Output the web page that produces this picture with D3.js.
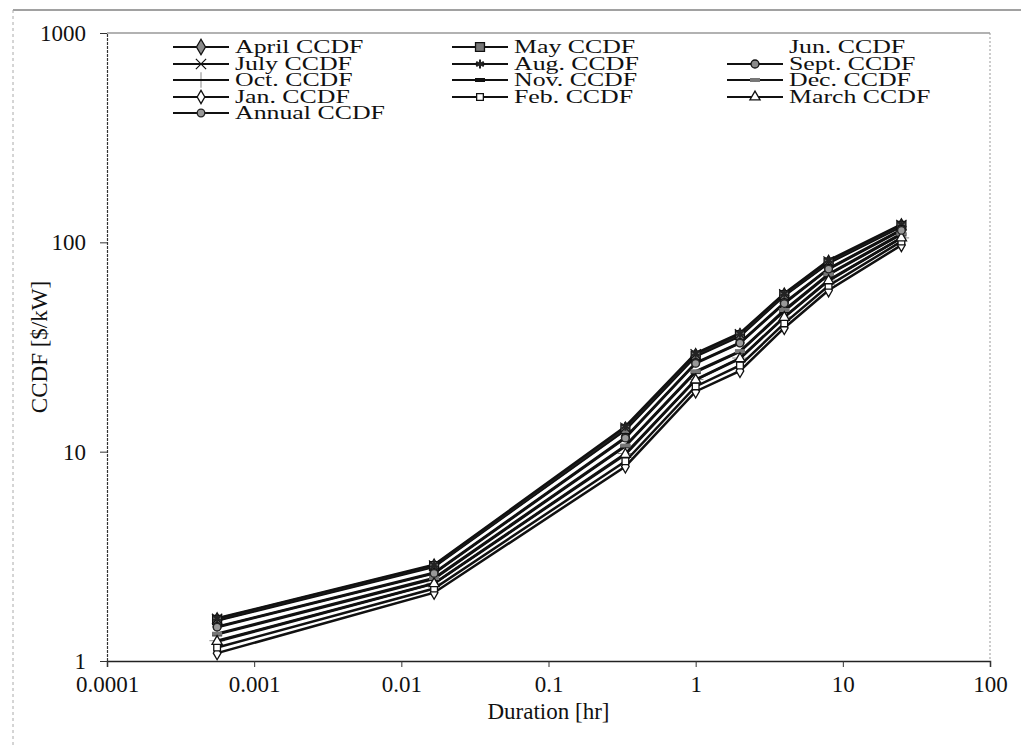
<!DOCTYPE html>
<html><head><meta charset="utf-8">
<script src="https://cdn.jsdelivr.net/npm/d3@7"></script>
<style>
html,body{margin:0;padding:0;background:#fff;}
text{font-family:"Liberation Serif","Times New Roman",serif;fill:#111;}
</style></head>
<body><svg id="c" width="1021" height="748"></svg>
<script>
// Durations [hr]
const durations = [0.00056, 0.0167, 0.333, 1, 2, 4, 8, 25];
// CCDF values [$/kW] per series
const aug    = [1.60, 2.88, 13.2, 29.5, 36.8, 57, 82, 122];
const july   = [1.59, 2.86, 13.0, 29.2, 36.4, 56.5, 81, 121];
const may    = [1.57, 2.84, 12.8, 28.8, 36.0, 56, 80, 120];
const april  = [1.56, 2.82, 12.7, 28.5, 35.6, 55.5, 79.5, 119];
const sept   = [1.46, 2.64, 11.7, 26.6, 33.2, 51.5, 75, 115];
const annual = [1.45, 2.62, 11.6, 26.4, 33.0, 51, 74.5, 114];
const jun    = [1.44, 2.61, 11.5, 26.2, 32.8, 50.5, 74, 114];
const dec    = [1.35, 2.49, 10.7, 24.2, 30.2, 47.5, 70.5, 110];
const nov    = [1.34, 2.47, 10.6, 24.0, 30.0, 47, 70, 109];
const oct    = [1.25, 2.35,  9.8, 22.1, 28.0, 44, 66, 105];
const march  = [1.24, 2.34,  9.7, 22.0, 27.8, 43.8, 65.5, 105];
const feb    = [1.16, 2.22,  9.0, 20.5, 25.8, 41, 62, 101];
const jan    = [1.09, 2.12,  8.5, 19.4, 24.3, 39, 59,  97];

const seriesNames = ["April CCDF","May CCDF","Jun. CCDF","July CCDF","Aug. CCDF","Sept. CCDF",
  "Oct. CCDF","Nov. CCDF","Dec. CCDF","Jan. CCDF","Feb. CCDF","March CCDF","Annual CCDF"];
const seriesValues = [april, may, jun, july, aug, sept, oct, nov, dec, jan, feb, march, annual];

const xTickValues = [0.0001, 0.001, 0.01, 0.1, 1, 10, 100];
const xTickLabels = ["0.0001","0.001","0.01","0.1","1","10","100"];
const yTickValues = [1, 10, 100, 1000];
const yTickLabels = ["1","10","100","1000"];

// styles
const styles = {
  "April CCDF":  {sym:d3.symbolDiamond, size:70, fill:"#8a8a8a", stroke:"#111", line:"#111"},
  "May CCDF":    {sym:d3.symbolSquare, size:80, fill:"#777", stroke:"#111", line:"#111"},
  "Jun. CCDF":   {sym:null, line:"none"},
  "July CCDF":   {sym:d3.symbolX, size:70, fill:"none", stroke:"#111", line:"#222", sw:1.2},
  "Aug. CCDF":   {sym:d3.symbolAsterisk, size:55, fill:"none", stroke:"#222", line:"#111", sw:2},
  "Sept. CCDF":  {sym:d3.symbolCircle, size:50, fill:"#8a8a8a", stroke:"#111", line:"#111"},
  "Oct. CCDF":   {sym:d3.symbolPlus, size:80, fill:"#111", stroke:"#111", line:"#111", sw:0.5},
  "Nov. CCDF":   {sym:"dash", size:0, fill:"#111", stroke:"#111", line:"#111"},
  "Dec. CCDF":   {sym:"dash", size:0, fill:"#777", stroke:"#555", line:"#111"},
  "Jan. CCDF":   {sym:d3.symbolDiamond, size:50, fill:"#fff", stroke:"#111", line:"#111"},
  "Feb. CCDF":   {sym:d3.symbolSquare, size:45, fill:"#fff", stroke:"#111", line:"#111"},
  "March CCDF":  {sym:d3.symbolTriangle, size:45, fill:"#fff", stroke:"#111", line:"#111"},
  "Annual CCDF": {sym:d3.symbolCircle, size:45, fill:"#999", stroke:"#222", line:"#111"}
};

const svg = d3.select("#c");
const L = 107, R = 990, T = 33, B = 661;

// outer frame
svg.append("line").attr("x1",13).attr("x2",1021).attr("y1",10).attr("y2",10).attr("stroke","#444").attr("stroke-width",1.2);
svg.append("line").attr("x1",13).attr("x2",13).attr("y1",10).attr("y2",748).attr("stroke","#aaa").attr("stroke-width",1).attr("stroke-dasharray","3,3");

const x = d3.scaleLog().domain([0.0001, 100]).range([L, R]);
const y = d3.scaleLog().domain([1, 1000]).range([B, T]);

// plot frame top / right
svg.append("line").attr("x1",L).attr("x2",R).attr("y1",T).attr("y2",T).attr("stroke","#666").attr("stroke-width",1.2);
svg.append("line").attr("x1",R).attr("x2",R).attr("y1",T).attr("y2",B).attr("stroke","#999").attr("stroke-width",1).attr("stroke-dasharray","2,2");

// axes
const xAxis = d3.axisBottom(x).tickValues(xTickValues).tickFormat((d,i)=>xTickLabels[i]).tickSizeOuter(0).tickSize(6).tickPadding(9);
const gx = svg.append("g").attr("transform",`translate(0,${B})`).call(xAxis);
gx.select(".domain").attr("stroke","#222").attr("stroke-width",1.5);
gx.selectAll(".tick line").attr("stroke","#333");
gx.selectAll("text").style("font-size","23px").attr("fill","#111").style("font-family","Liberation Serif");

const yAxis = d3.axisLeft(y).tickValues(yTickValues).tickFormat((d,i)=>yTickLabels[i]).tickSizeOuter(0).tickSize(7).tickPadding(14);
const gy = svg.append("g").attr("transform",`translate(${L},0)`).call(yAxis);
gy.select(".domain").attr("stroke","#333").attr("stroke-width",1.2).attr("stroke-dasharray","3,1");
gy.selectAll(".tick line").attr("stroke","#333");
gy.selectAll("text").style("font-size","23px").attr("fill","#111").style("font-family","Liberation Serif");

svg.append("text").attr("x",(L+R)/2).attr("y",719).attr("text-anchor","middle").style("font-size","23px").text("Duration [hr]");
svg.append("text").attr("transform",`translate(47,${(T+B)/2}) rotate(-90)`).attr("text-anchor","middle").style("font-size","23px").text("CCDF [$/kW]");

const lineGen = d3.line().x(d=>x(d[0])).y(d=>y(d[1]));

function drawMarker(g, st, cx, cy){
  if(!st.sym) return;
  if(st.sym==="dash"){
    g.append("rect").attr("x",cx-5).attr("y",cy-2).attr("width",10).attr("height",4).attr("fill",st.fill).attr("stroke","none");
    return;
  }
  g.append("path").attr("d",d3.symbol(st.sym, st.size)())
    .attr("transform",`translate(${cx},${cy})`)
    .attr("fill",st.fill).attr("stroke",st.stroke).attr("stroke-width",st.sw||1.3);
}

// series lines
const plot = svg.append("g");
seriesNames.forEach((name,i)=>{
  const st = styles[name];
  const pts = durations.map((d,j)=>[d, seriesValues[i][j]]);
  if(st.line!=="none"){
    plot.append("path").attr("d",lineGen(pts)).attr("fill","none").attr("stroke",st.line).attr("stroke-width",2.5);
  }
});
seriesNames.forEach((name,i)=>{
  const st = styles[name];
  durations.forEach((d,j)=>drawMarker(plot, st, x(d), y(seriesValues[i][j])));
});

// legend
const colX = [173, 452, 727];
const rowY = [47, 64, 80, 97, 113];
const lg = svg.append("g");
seriesNames.forEach((name,i)=>{
  const col = i%3, row = Math.floor(i/3);
  const x0 = colX[col], yy = rowY[row];
  const st = styles[name];
  if(st.line!=="none"){
    lg.append("line").attr("x1",x0).attr("x2",x0+56).attr("y1",yy).attr("y2",yy).attr("stroke","#111").attr("stroke-width",2.2);
    drawMarker(lg, st, x0+28, yy);
  }
  lg.append("text").attr("transform",`translate(${x0+62},${yy+6}) scale(1.36,1)`).style("font-size","19px").text(name);
});
</script></body></html>
